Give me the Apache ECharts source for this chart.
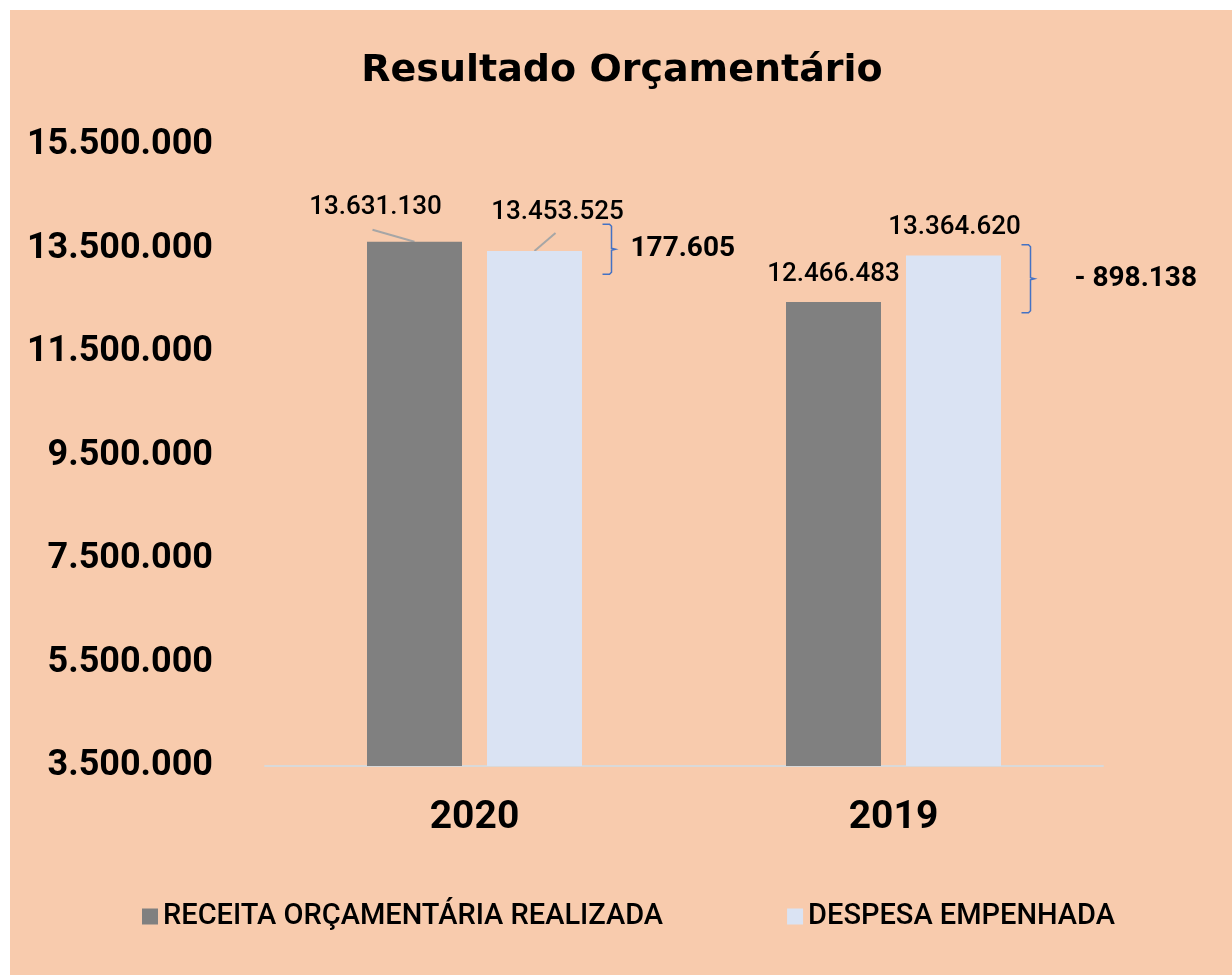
<!DOCTYPE html>
<html>
<head>
<meta charset="utf-8">
<script src="https://cdn.jsdelivr.net/npm/echarts@6/dist/echarts.min.js"></script>
<style>
  html, body { margin: 0; padding: 0; background: #fff; }
  #main { width: 1232px; height: 975px; }
</style>
</head>
<body>
<div id="main"></div>
<script>
// dados do gráfico
const categories = ['2020', '2019'];
const receita = [13631130, 12466483];
const despesa = [13453525, 13364620];
const yTicks = [3500000, 5500000, 7500000, 9500000, 11500000, 13500000, 15500000];
const diffLabels = ['177.605', '- 898.138'];
const seriesNames = ['RECEITA ORÇAMENTÁRIA REALIZADA', 'DESPESA EMPENHADA'];

// formato brasileiro 13.631.130
function fmt(v) {
    return String(v).replace(/\B(?=(\d{3})+(?!\d))/g, '.');
}

// deslocamento dos rótulos (estilo)
const recOffset = [[-39, -16], [0, -9]];
const despOffset = [[23, -20], [1, -10]];

var chart = echarts.init(document.getElementById('main'));

var dataLabel = {
    show: true,
    position: 'top',
    distance: 5,
    color: '#000',
    fontFamily: 'Roboto',
    fontWeight: 500,
    fontSize: 26,
    formatter: p => fmt(p.value)
};

chart.setOption({
    backgroundColor: '#ffffff',
    animation: false,
    title: {
        text: 'Resultado Orçamentário',
        left: 617,
        textAlign: 'center',
        top: 47,
        textStyle: {
            color: '#000',
            fontFamily: "'DejaVu Sans', sans-serif",
            fontWeight: 'bold',
            fontSize: 38
        }
    },
    legend: {
        left: 137,
        top: 897,
        itemWidth: 16,
        itemHeight: 16,
        itemGap: 124,
        icon: 'rect',
        textStyle: {
            color: '#000',
            fontFamily: 'Roboto',
            fontWeight: 500,
            fontSize: 29
        }
    },
    grid: {
        left: 265,
        right: 129,
        top: 145,
        bottom: 209
    },
    xAxis: {
        type: 'category',
        data: categories,
        axisLine: { lineStyle: { color: '#D9D9D9', width: 2 } },
        axisTick: { show: false },
        axisLabel: {
            color: '#000',
            fontFamily: 'Roboto',
            fontWeight: 'bold',
            fontSize: 39,
            margin: 33
        }
    },
    yAxis: {
        type: 'value',
        min: 3500000,
        max: 15500000,
        startValue: 3500000,
        splitLine: { show: false },
        axisLine: { show: false },
        axisTick: { show: false },
        axisLabel: {
            customValues: yTicks,
            formatter: fmt,
            color: '#000',
            fontFamily: 'Roboto',
            fontWeight: 'bold',
            fontSize: 36,
            margin: 52
        }
    },
    series: [
        {
            name: seriesNames[0],
            type: 'bar',
            barWidth: 95,
            barGap: '26.3%',
            clip: true,
            itemStyle: { color: '#808080' },
            label: dataLabel,
            data: receita.map((v, i) => ({ value: v, label: { offset: recOffset[i] } }))
        },
        {
            name: seriesNames[1],
            type: 'bar',
            barWidth: 95,
            clip: true,
            itemStyle: { color: '#DAE3F3' },
            label: dataLabel,
            data: despesa.map((v, i) => ({ value: v, label: { offset: despOffset[i] } }))
        }
    ]
});

// fundo, linhas guia e chaves da diferença
function drawExtras() {
    var els = [{
        type: 'rect',
        z: -100,
        silent: true,
        shape: { x: 10, y: 10, width: 1222, height: 965 },
        style: { fill: '#F8CBAD' }
    }];
    var halfH = [25, 34];
    var gap = [15, 40];
    categories.forEach(function (c, i) {
        var cx = chart.convertToPixel({ xAxisIndex: 0 }, c);
        var yr = chart.convertToPixel({ yAxisIndex: 0 }, receita[i]);
        var yd = chart.convertToPixel({ yAxisIndex: 0 }, despesa[i]);
        if (i === 0) {
            // linhas guia dos rótulos de 2020
            els.push({
                type: 'line', silent: true,
                shape: { x1: cx - 60, y1: yr, x2: cx - 102, y2: yr - 12 },
                style: { stroke: '#A6A6A6', lineWidth: 2 }
            });
            els.push({
                type: 'line', silent: true,
                shape: { x1: cx + 60, y1: yd, x2: cx + 81, y2: yd - 18 },
                style: { stroke: '#A6A6A6', lineWidth: 2 }
            });
        }
        var x0 = cx + 128, x1 = x0 + 9, tip = x1 + 4;
        var mid = (yr + yd) / 2 + (i === 0 ? 3 : 0);
        var top = mid - halfH[i], bot = mid + halfH[i];
        els.push({
            type: 'polyline', silent: true,
            shape: {
                points: [[x0, top], [x1 - 2, top], [x1, top + 2], [x1, mid - 1],
                    [tip, mid], [x1, mid + 1], [x1, bot - 2], [x1 - 2, bot], [x0, bot]]
            },
            style: { stroke: '#4472C4', lineWidth: 1.5, fill: null }
        });
        els.push({
            type: 'text', silent: true,
            style: {
                text: diffLabels[i],
                x: tip + gap[i],
                y: mid,
                verticalAlign: 'middle',
                align: 'left',
                fill: '#000',
                fontFamily: 'Roboto',
                fontWeight: 'bold',
                fontSize: 28
            }
        });
    });
    chart.setOption({ graphic: els });
}
drawExtras();
</script>
</body>
</html>
